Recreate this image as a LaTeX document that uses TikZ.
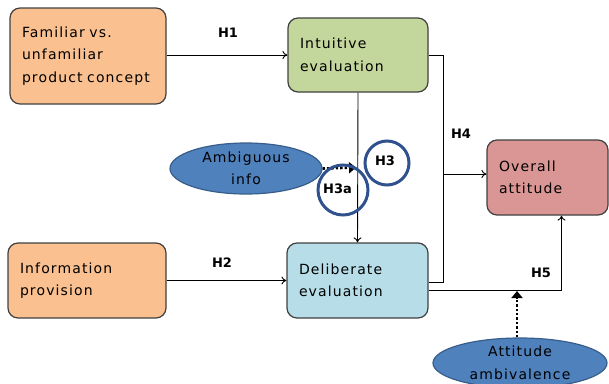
\documentclass[tikz,border=0pt]{standalone}
\usepackage{fontspec}
\setmainfont{DejaVu Sans}
\newfontfamily\boxfont[LetterSpace=8]{DejaVu Sans}
\usetikzlibrary{arrows.meta,shapes.geometric,calc}
\definecolor{orangefill}{HTML}{FAC08F}
\definecolor{greenfill}{HTML}{C3D69B}
\definecolor{bluefill}{HTML}{B7DEE8}
\definecolor{pinkfill}{HTML}{D99694}
\definecolor{ovalfill}{HTML}{4F81BD}
\definecolor{ovaledge}{HTML}{385D8A}
\definecolor{ringblue}{HTML}{2F528F}
\definecolor{edgegray}{HTML}{404040}
\tikzset{
  conceptbox/.style={draw=edgegray, line width=1.2pt, rounded corners=10pt,
    inner xsep=12pt, inner ysep=4pt, align=left,
    font=\boxfont\fontsize{14}{22.5}\selectfont},
  moderator/.style={ellipse, draw=ovaledge, line width=1.2pt, fill=ovalfill,
    inner sep=0pt, align=center, font=\boxfont\fontsize{14}{22.5}\selectfont},
  hyp/.style={font=\bfseries\fontsize{13}{15}\selectfont},
  ring/.style={draw=ringblue, line width=3pt},
  conn/.style={line width=0.9pt, -{To[length=5pt,width=8pt]}},
  plainline/.style={line width=0.9pt},
  dotconn/.style={line width=2.6pt, dash pattern=on 2.4pt off 2pt,
    -{Triangle[length=7pt,width=11pt]}}
}
\begin{document}
\begin{tikzpicture}[x=1pt,y=-1pt]
\useasboundingbox (0,0) rectangle (609,383);

% constructs
\node[conceptbox, fill=orangefill, text width=132pt, minimum height=96pt] (fam) at (88,56)
  {Familiar vs.\\unfamiliar\\product concept};
\node[conceptbox, fill=greenfill, text width=116pt, minimum height=74pt] (int) at (358,55)
  {Intuitive\\evaluation};
\node[conceptbox, fill=orangefill, text width=134pt, minimum height=75pt] (inf) at (87,280.5)
  {Information\\provision};
\node[conceptbox, fill=bluefill, text width=117pt, minimum height=75pt] (del) at (357.5,280.5)
  {Deliberate\\evaluation};
\node[conceptbox, fill=pinkfill, text width=97pt, minimum height=75pt] (att) at (547.5,177.5)
  {Overall\\attitude};

% moderators
\node[moderator, minimum width=152pt, minimum height=51pt] (amb) at (246,168.5)
  {Ambiguous\\info};
\node[moderator, minimum width=174pt, minimum height=50pt] (ambiv) at (520,363)
  {Attitude\\ambivalence};

% bus joining both evaluations
\coordinate (bus) at (443,0);
\coordinate (h5end) at ($(att.south)+(14,0)$);

% main paths
\draw[conn] (fam.east |- int.west) -- (int.west);
\draw[conn] (inf.east) -- (del.west);
\draw[conn] (int.south) -- (del.north);
\draw[plainline] (int.east) -| ($(bus |- del.east)+(0,2)$) -- ($(del.east)+(0,2)$);
\draw[conn] (bus |- 0,174) -- (att.west |- 0,174);
\draw[conn] ($(del.east)+(0,9.5)$) -| (h5end);

% moderating effects
\draw[dotconn] (amb.east) -- ($(amb.east -| int.south)+(-2,-1)$);
\draw[dotconn] (ambiv.north -| 517,0) -- (517,291);

% hypothesis labels
\node[hyp] (h1) at (228,33) {H1};
\node[hyp] (h2) at (222,263) {H2};
\node[hyp] (h4) at (461,134) {H4};
\node[hyp] (h5) at (541,273) {H5};

% circled hypotheses
\draw[ring] (387,163) circle (22);
\node[hyp] (h3) at (385,161) {H3};
\draw[ring] (343,190) circle (25);
\node[hyp] (h3a) at (337.5,189) {H3a};
\end{tikzpicture}
\end{document}
